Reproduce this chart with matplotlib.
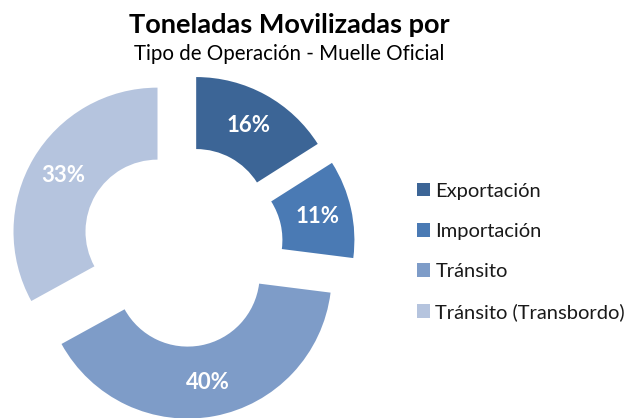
import matplotlib.pyplot as plt

# data
labels = ['Exportación', 'Importación', 'Tránsito', 'Tránsito (Transbordo)']
values = [16, 11, 40, 33]
colors = ['#3c6596', '#4a7ab4', '#7e9cc8', '#b5c4de']

plt.rcParams['font.family'] = ['Lato', 'DejaVu Sans']

fig = plt.figure(figsize=(6.34, 4.18), dpi=100)
ax = fig.add_axes([0, 0, 1, 1])

wedges, texts, autotexts = ax.pie(
    values, colors=colors, startangle=90, counterclock=False,
    explode=[0.2] * len(values), radius=1,
    wedgeprops=dict(width=0.5, edgecolor='none'),
    autopct='%.0f%%', pctdistance=0.76)

for t in autotexts:
    t.set_color('white')
    t.set_fontsize(16)
    t.set_fontweight('bold')

# pie centre sits at about (182, 246) px, radius 144 px
cx, cy, rpx = 182.3, 246.3, 144.0
ax.set_xlim(-cx / rpx, (634 - cx) / rpx)
ax.set_ylim(-(418 - cy) / rpx, cy / rpx)
ax.set_aspect('auto')
ax.axis('off')

fig.text(0.456, 0.921, 'Toneladas Movilizadas por', ha='center', va='baseline',
         fontsize=19.5, fontweight='bold', color='black')
fig.text(0.456, 0.856, 'Tipo de Operación - Muelle Oficial', ha='center', va='baseline',
         fontsize=14.8, color='black')

leg = ax.legend(wedges, labels, loc='upper left', bbox_to_anchor=(0.658, 0.563),
                bbox_transform=fig.transFigure, frameon=False, fontsize=14.5,
                handlelength=0.66, handleheight=0.66, handletextpad=0.25,
                labelspacing=1.15, borderpad=0, borderaxespad=0)
for t in leg.get_texts():
    t.set_color('#1a1a1a')

fig.savefig('out.png', dpi=100)
